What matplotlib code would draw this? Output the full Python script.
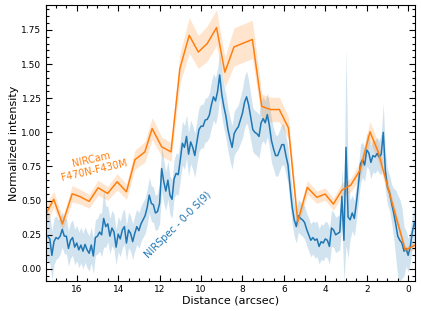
import numpy as np
import matplotlib
matplotlib.use('Agg')
import matplotlib.pyplot as plt
import matplotlib.ticker as ticker

# NIRCam F470N-F430M profile (coarse sampling).
nircam_x = [17.50, 17.11, 16.69, 16.22, 15.85, 15.40, 14.97, 14.51, 14.05, 13.60,
            13.19, 12.71, 12.36, 11.90, 11.45, 11.02, 10.57, 10.13, 9.70, 9.25,
            8.85, 8.41, 7.52, 7.07, 6.64, 6.22, 5.78, 5.33, 4.87, 4.41,
            4.01, 3.61, 3.20, 2.77, 2.32, 1.84, 1.43, 0.95, 0.14, -0.34]
nircam_y = [0.40, 0.51, 0.33, 0.55, 0.53, 0.495, 0.594, 0.553, 0.638, 0.565,
            0.80, 0.857, 1.028, 0.894, 0.857, 1.467, 1.71, 1.588, 1.65, 1.767,
            1.44, 1.625, 1.68, 1.19, 1.167, 1.167, 1.033, 0.346, 0.597, 0.525,
            0.548, 0.475, 0.577, 0.614, 0.724, 1.004, 0.85, 0.58, 0.139, 0.175]
nircam_err = [0.07, 0.06, 0.045, 0.06, 0.055, 0.05, 0.055, 0.05, 0.06, 0.055,
              0.07, 0.075, 0.08, 0.07, 0.07, 0.11, 0.13, 0.12, 0.13, 0.13,
              0.11, 0.14, 0.14, 0.09, 0.09, 0.09, 0.08, 0.045, 0.05, 0.045,
              0.045, 0.045, 0.05, 0.05, 0.06, 0.075, 0.07, 0.05, 0.02, 0.03]

# NIRSpec 0-0 S(9) profile, sampled every 0.1 arcsec from 17.5 to -0.4.
nirspec_x = np.round(np.arange(175, -5, -1) / 10.0, 1)
nirspec_y = [
    0.25, 0.24, 0.22, 0.10, 0.20, 0.23, 0.22, 0.24, 0.29, 0.24,      # 17.5 - 16.6
    0.24, 0.15, 0.21, 0.23, 0.16, 0.19, 0.14, 0.175, 0.13, 0.18,     # 16.5 - 15.6
    0.14, 0.115, 0.175, 0.095, 0.23, 0.24, 0.27, 0.25, 0.37, 0.31,   # 15.5 - 14.6
    0.33, 0.24, 0.30, 0.27, 0.16, 0.255, 0.22, 0.285, 0.31, 0.19,    # 14.5 - 13.6
    0.285, 0.26, 0.20, 0.26, 0.31, 0.28, 0.33, 0.36, 0.39, 0.45,     # 13.5 - 12.6
    0.54, 0.48, 0.47, 0.41, 0.42, 0.48, 0.735, 0.64, 0.57, 0.65,     # 12.5 - 11.6
    0.54, 0.51, 0.66, 0.70, 0.69, 0.80, 0.92, 0.89, 0.97, 0.84,      # 11.5 - 10.6
    0.93, 0.89, 0.83, 0.93, 1.02, 1.045, 1.045, 1.09, 1.095, 1.125,  # 10.5 - 9.6
    1.20, 1.26, 1.23, 1.30, 1.42, 1.28, 1.19, 1.12, 1.02, 0.95,      # 9.5 - 8.6
    0.89, 0.99, 1.02, 1.04, 1.09, 1.14, 1.22, 1.26, 1.20, 1.11,      # 8.5 - 7.6
    1.02, 1.00, 0.99, 0.97, 1.07, 1.10, 1.07, 1.13, 1.05, 0.94,      # 7.5 - 6.6
    0.88, 0.83, 0.83, 0.87, 0.91, 0.91, 0.83, 0.76, 0.60, 0.455,     # 6.5 - 5.6
    0.36, 0.31, 0.39, 0.37, 0.36, 0.34, 0.29, 0.25, 0.21, 0.23,      # 5.5 - 4.6
    0.21, 0.22, 0.165, 0.20, 0.19, 0.22, 0.21, 0.165, 0.30, 0.285,   # 4.5 - 3.6
    0.25, 0.26, 0.27, 0.53, 0.21, 0.89, 0.38, 0.36, 0.41, 0.37,      # 3.5 - 2.6
    0.48, 0.62, 0.77, 0.80, 0.76, 0.87, 0.85, 0.78, 0.83, 0.82,      # 2.5 - 1.6
    0.845, 0.82, 0.84, 1.00, 0.72, 0.60, 0.56, 0.48, 0.41, 0.33,     # 1.5 - 0.6
    0.24, 0.21, 0.19, 0.13, 0.15, 0.10, 0.16, 0.27, 0.34, 0.28,      # 0.5 - -0.4
]
nirspec_err = [
    0.18, 0.18, 0.18, 0.18, 0.17, 0.16, 0.14, 0.13, 0.13, 0.13,
    0.13, 0.13, 0.13, 0.13, 0.13, 0.13, 0.13, 0.13, 0.13, 0.13,
    0.13, 0.13, 0.13, 0.13, 0.13, 0.13, 0.14, 0.16, 0.21, 0.15,
    0.13, 0.13, 0.13, 0.13, 0.13, 0.13, 0.13, 0.13, 0.13, 0.13,
    0.13, 0.13, 0.13, 0.13, 0.13, 0.13, 0.13, 0.13, 0.13, 0.13,
    0.13, 0.13, 0.13, 0.13, 0.13, 0.15, 0.17, 0.16, 0.14, 0.14,
    0.14, 0.14, 0.14, 0.15, 0.15, 0.15, 0.16, 0.16, 0.16, 0.16,
    0.16, 0.16, 0.16, 0.16, 0.16, 0.16, 0.16, 0.16, 0.16, 0.16,
    0.17, 0.17, 0.17, 0.17, 0.17, 0.17, 0.16, 0.16, 0.16, 0.16,
    0.16, 0.16, 0.16, 0.16, 0.17, 0.18, 0.19, 0.19, 0.18, 0.17,
    0.16, 0.16, 0.16, 0.16, 0.16, 0.16, 0.16, 0.16, 0.16, 0.16,
    0.15, 0.15, 0.15, 0.15, 0.15, 0.15, 0.14, 0.13, 0.13, 0.13,
    0.12, 0.12, 0.12, 0.12, 0.12, 0.12, 0.12, 0.12, 0.12, 0.12,
    0.13, 0.13, 0.13, 0.13, 0.13, 0.13, 0.13, 0.13, 0.13, 0.13,
    0.13, 0.13, 0.13, 0.20, 0.30, 0.72, 0.30, 0.14, 0.13, 0.13,
    0.13, 0.13, 0.14, 0.13, 0.12, 0.12, 0.12, 0.12, 0.12, 0.12,
    0.12, 0.12, 0.15, 0.21, 0.14, 0.13, 0.13, 0.14, 0.18, 0.25,
    0.30, 0.30, 0.26, 0.18, 0.13, 0.12, 0.12, 0.12, 0.12, 0.12,
]

nircam_x = np.array(nircam_x)
nircam_y = np.array(nircam_y)
nircam_err = np.array(nircam_err)
nirspec_y = np.array(nirspec_y)
nirspec_err = np.array(nirspec_err)

blue = '#1f77b4'
orange = '#ff7f0e'

fig, ax = plt.subplots(figsize=(4.21, 3.11), dpi=100)
fig.subplots_adjust(left=0.1085, right=0.9857, top=0.983, bottom=0.0965)

# Bands first, then lines on top.
ax.fill_between(nirspec_x, nirspec_y - nirspec_err, nirspec_y + nirspec_err,
                color=blue, alpha=0.2, linewidth=0)
ax.fill_between(nircam_x, nircam_y - nircam_err, nircam_y + nircam_err,
                color=orange, alpha=0.2, linewidth=0)
ax.plot(nirspec_x, nirspec_y, color=blue, lw=1.1)
ax.plot(nircam_x, nircam_y, color=orange, lw=1.1)

# Curve labels.
ax.text(15.22, 0.76, 'NIRCam\nF470N-F430M', color=orange, fontsize=7,
        rotation=13, ha='center', va='center', multialignment='center',
        rotation_mode='anchor')
ax.text(11.13, 0.32, 'NIRSpec - 0-0 S(9)', color=blue, fontsize=7,
        rotation=45, ha='center', va='center', rotation_mode='anchor')

# Axes limits (x is reversed).
ax.set_xlim(17.5, -0.33)
ax.set_ylim(-0.088, 1.93)

ax.xaxis.set_major_locator(ticker.MultipleLocator(2))
ax.xaxis.set_minor_locator(ticker.MultipleLocator(0.5))
ax.yaxis.set_major_locator(ticker.MultipleLocator(0.25))
ax.yaxis.set_minor_locator(ticker.MultipleLocator(0.05))
ax.yaxis.set_major_formatter(ticker.FormatStrFormatter('%.2f'))

ax.tick_params(which='both', direction='in', top=True, right=True, width=0.8)
ax.tick_params(which='major', length=4.5, labelsize=6.5, pad=3)
ax.tick_params(which='minor', length=2.5)

ax.set_xlabel('Distance (arcsec)', fontsize=8, labelpad=1)
ax.set_ylabel('Normalized intensity', fontsize=8, labelpad=2)

fig.savefig('out.png', dpi=100)
